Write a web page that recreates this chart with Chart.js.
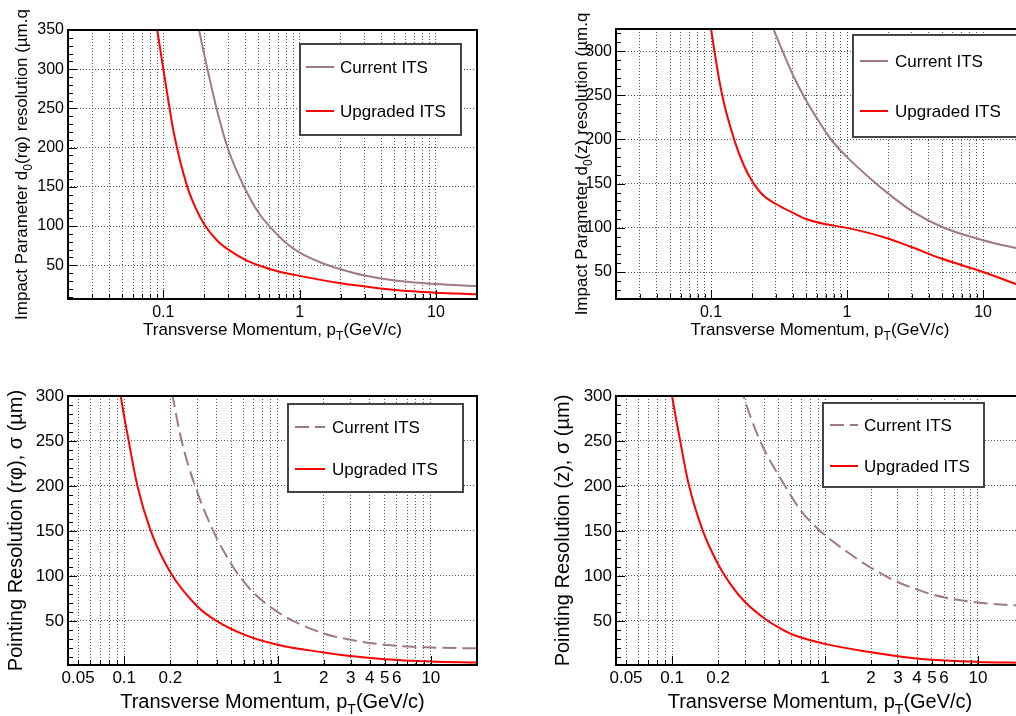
<!DOCTYPE html>
<html>
<head>
<meta charset="utf-8">
<script src="https://cdn.jsdelivr.net/npm/chart.js@4.4.0/dist/chart.umd.min.js"></script>
<style>
    html, body { margin: 0; padding: 0; background: #fff; overflow: hidden; width: 1016px; height: 716px; }
    canvas { position: absolute; }
</style>
</head>
<body>
<canvas id="chartA" width="500" height="345" style="left:0;top:0"></canvas>
<canvas id="chartB" width="500" height="345" style="left:540px;top:0"></canvas>
<canvas id="chartC" width="500" height="356" style="left:0;top:360px"></canvas>
<canvas id="chartD" width="500" height="356" style="left:540px;top:360px"></canvas>
<script>
// ------------------- Data -------------------
// d0 (r-phi)
const ptCurA = [0.17, 0.183, 0.2, 0.25, 0.3, 0.4, 0.5, 0.6, 0.8, 1, 1.5, 2, 3, 5, 10, 20];
const curA   = [380, 350, 318, 245, 197, 147, 117, 100, 78, 66, 52, 45, 37, 30.5, 26, 23.5];
const ptUpgA = [0.085, 0.1, 0.11, 0.12, 0.15, 0.175, 0.2, 0.25, 0.3, 0.4, 0.5, 0.7, 1, 2, 3, 5, 10, 20];
const upgA   = [380, 300, 255, 217, 150, 121, 102, 81, 70, 57, 50, 42, 36.5, 27, 23, 18.5, 15, 13];

// d0 (z)
const ptCurB = [0.27, 0.288, 0.3, 0.4, 0.5, 0.6, 0.7, 0.8, 1, 1.5, 2, 3, 5, 10, 20];
const curB   = [340, 325, 318, 273, 244, 224, 208, 196, 180, 155, 139, 119, 101, 86, 75];
const ptUpgB = [0.097, 0.1, 0.12, 0.15, 0.175, 0.2, 0.225, 0.25, 0.3, 0.4, 0.5, 0.7, 1, 2, 3, 5, 10, 20];
const upgB   = [340, 325, 252, 197, 170, 153, 142, 135, 127, 117, 110, 104, 100, 88, 78, 65, 50, 33];

// pointing resolution (r-phi)
const ptCurC = [0.195, 0.207, 0.237, 0.29, 0.381, 0.5, 0.563, 0.7, 1, 1.2, 2, 3, 5, 10, 20];
const curC   = [325, 300, 250, 200, 150, 113, 100, 81, 60, 52, 36, 29, 23.5, 20.5, 19.5];
const ptUpgC = [0.09, 0.095, 0.107, 0.122, 0.149, 0.2, 0.3, 0.4, 0.6, 1, 2, 3, 5, 10, 20];
const upgC   = [330, 300, 250, 200, 150, 104, 66, 50, 35, 23.5, 15, 11, 7.5, 5, 3.8];

// pointing resolution (z)
const ptCurD = [0.28, 0.293, 0.377, 0.548, 0.7, 0.93, 1.5, 2, 3, 4, 5, 7, 10, 20];
const curD   = [312, 300, 250, 200, 172, 150, 123, 109, 93, 85, 79.5, 74, 70.5, 66.5];
const ptUpgD = [0.096, 0.1, 0.113, 0.128, 0.159, 0.2, 0.25, 0.3, 0.4, 0.5, 0.6, 1, 2, 3, 5, 10, 20];
const upgD   = [320, 300, 250, 203, 150, 113, 87, 71, 53, 42.5, 35.5, 24.5, 15.2, 10.8, 6.8, 4.4, 3.4];

// tick labels
const xLabelsTop = [0.1, 1, 10];
const xLabelsBottom = [0.05, 0.1, 0.2, 1, 2, 3, 4, 5, 6, 10];
const yTicksA = [50, 100, 150, 200, 250, 300, 350];
const yTicksB = [50, 100, 150, 200, 250, 300];
const yTicksC = [50, 100, 150, 200, 250, 300];

const seriesNames = ['Current ITS', 'Upgraded ITS'];
const colorCurrent = '#9e7b84';
const colorUpgraded = '#ff0000';
const FONT = '"Liberation Sans", Arial, Helvetica, sans-serif';

Chart.defaults.font.family = FONT;
Chart.defaults.color = '#000';

// log grid positions 1..9 x 10^n inside [min, max]
function logTicks(min, max) {
    const out = [];
    for (let e = -2; e <= 1; e++) {
        for (let m = 1; m <= 9; m++) {
            const v = +(m * Math.pow(10, e)).toPrecision(6);
            if (v >= min * 0.999 && v <= max * 1.001) out.push(v);
        }
    }
    return out;
}
const isIn = (v, list) => list.some(l => Math.abs(v - l) / l < 1e-6);
const pairs = (xs, ys) => xs.map((x, i) => ({ x: x, y: ys[i] }));

// ------------------- Drawing helpers -------------------
function drawRich(ctx, parts, size, cx, cy, rotate) {
    const main = size + 'px ' + FONT;
    const sub = Math.round(size * 0.7) + 'px ' + FONT;
    ctx.save();
    ctx.translate(cx, cy);
    if (rotate) ctx.rotate(-Math.PI / 2);
    let total = 0;
    parts.forEach(p => { ctx.font = p.sub ? sub : main; total += ctx.measureText(p.t).width; });
    let x = -total / 2;
    ctx.textBaseline = 'middle';
    ctx.textAlign = 'left';
    ctx.fillStyle = '#000';
    parts.forEach(p => {
        ctx.font = p.sub ? sub : main;
        ctx.fillText(p.t, x, p.sub ? size * 0.42 : 0);
        x += ctx.measureText(p.t).width;
    });
    ctx.restore();
}

const rootStyle = {
    id: 'rootStyle',
    afterDatasetsDraw(chart, args, opts) {
        const { ctx, chartArea: a, scales } = chart;
        const xs = scales.x, ys = scales.y;
        ctx.save();
        // inside tick marks
        ctx.strokeStyle = '#000';
        ctx.lineWidth = 1;
        ctx.beginPath();
        opts.xTicks.forEach(v => {
            const px = Math.round(xs.getPixelForValue(v)) + 0.5;
            const len = isIn(v, [0.01, 0.1, 1, 10]) ? 9 : 5;
            ctx.moveTo(px, a.bottom);
            ctx.lineTo(px, a.bottom - len);
        });
        for (let v = 10; v < ys.max; v += 10) {
            if (v < ys.min) continue;
            const py = Math.round(ys.getPixelForValue(v)) + 0.5;
            const len = v % 50 === 0 ? 9 : 5;
            ctx.moveTo(a.left, py);
            ctx.lineTo(a.left + len, py);
        }
        ctx.stroke();
        // frame
        ctx.lineWidth = 2;
        ctx.strokeRect(a.left, a.top, a.right - a.left, a.bottom - a.top);

        // legend
        const L = opts.legend;
        ctx.fillStyle = '#fff';
        ctx.fillRect(L.x1, L.y1, L.x2 - L.x1, L.y2 - L.y1);
        ctx.strokeStyle = '#444';
        ctx.lineWidth = 2;
        ctx.strokeRect(L.x1, L.y1, L.x2 - L.x1, L.y2 - L.y1);
        chart.data.datasets.forEach((ds, i) => {
            const y = L.rows[i];
            ctx.strokeStyle = ds.borderColor;
            ctx.lineWidth = ds.borderWidth;
            ctx.setLineDash(ds.borderDash || []);
            ctx.beginPath();
            ctx.moveTo(L.lx1, y);
            ctx.lineTo(L.lx2, y);
            ctx.stroke();
            ctx.setLineDash([]);
            ctx.fillStyle = '#000';
            ctx.font = L.size + 'px ' + FONT;
            ctx.textBaseline = 'middle';
            ctx.textAlign = 'left';
            ctx.fillText(ds.label, L.tx, y + 1);
        });
        ctx.restore();

        // axis titles
        const cx = (a.left + a.right) / 2, cy = (a.top + a.bottom) / 2;
        drawRich(ctx, opts.xTitle, opts.titleSize, cx, opts.xTitleY, false);
        drawRich(ctx, opts.yTitle, opts.titleSize, opts.yTitleX, cy, true);
    }
};

// ------------------- Panels -------------------
function makeChart(p) {
    const xTicks = logTicks(p.xMin, p.xMax);
    new Chart(document.getElementById(p.id).getContext('2d'), {
        type: 'line',
        data: {
            datasets: [
                {
                    label: seriesNames[0],
                    data: pairs(p.ptCur, p.cur),
                    borderColor: colorCurrent,
                    borderWidth: 2,
                    borderDash: p.dashed ? [14, 6] : [],
                    pointRadius: 0,
                    cubicInterpolationMode: 'monotone',
                    fill: false
                },
                {
                    label: seriesNames[1],
                    data: pairs(p.ptUpg, p.upg),
                    borderColor: colorUpgraded,
                    borderWidth: 2,
                    pointRadius: 0,
                    cubicInterpolationMode: 'monotone',
                    fill: false
                }
            ]
        },
        options: {
            responsive: false,
            animation: false,
            layout: { padding: { top: p.padTop, right: p.padRight, left: 0, bottom: 0 } },
            plugins: {
                legend: { display: false },
                tooltip: { enabled: false },
                rootStyle: {
                    xTicks: xTicks,
                    legend: p.legend,
                    xTitle: p.xTitle,
                    yTitle: p.yTitle,
                    titleSize: p.titleSize,
                    xTitleY: p.xTitleY,
                    yTitleX: p.yTitleX
                }
            },
            scales: {
                x: {
                    type: 'logarithmic',
                    min: p.xMin,
                    max: p.xMax,
                    bounds: 'data',
                    afterBuildTicks: s => { s.ticks = xTicks.map(v => ({ value: v })); },
                    afterFit: s => { s.height = p.xAxisHeight; },
                    grid: { color: '#555', lineWidth: 1, drawTicks: false },
                    border: { display: false, dash: [1, 2] },
                    ticks: {
                        autoSkip: false,
                        maxRotation: 0,
                        padding: p.xPad,
                        font: { size: p.tickSize },
                        callback: v => (isIn(v, p.xLabels) ? String(+v.toPrecision(3)) : '')
                    }
                },
                y: {
                    type: 'linear',
                    min: p.yMin,
                    max: p.yMax,
                    bounds: 'data',
                    afterBuildTicks: s => { s.ticks = p.yTicks.map(v => ({ value: v })); },
                    afterFit: s => { s.width = p.yAxisWidth; },
                    grid: { color: '#555', lineWidth: 1, drawTicks: false },
                    border: { display: false, dash: [1, 2] },
                    ticks: { padding: 4, font: { size: p.tickSize }, callback: v => String(v) }
                }
            }
        },
        plugins: [rootStyle]
    });
}

const xTitleParts = [{ t: 'Transverse Momentum, p' }, { t: 'T', sub: true }, { t: '(GeV/c)' }];

document.addEventListener('DOMContentLoaded', () => {
    makeChart({
        id: 'chartA', ptCur: ptCurA, cur: curA, ptUpg: ptUpgA, upg: upgA, dashed: false,
        xMin: 0.02, xMax: 20, yMin: 7, yMax: 350, yTicks: yTicksA, xLabels: xLabelsTop,
        padTop: 30, padRight: 23, xAxisHeight: 46, yAxisWidth: 68, xPad: 4, tickSize: 16,
        titleSize: 17, xTitleY: 330, yTitleX: 22,
        xTitle: xTitleParts,
        yTitle: [{ t: 'Impact Parameter d' }, { t: '0', sub: true }, { t: '(r\u03C6) resolution (\u00B5m.q' }],
        legend: { x1: 300, y1: 44, x2: 461, y2: 135, rows: [67, 111], lx1: 306, lx2: 334, tx: 340, size: 17 }
    });
    makeChart({
        id: 'chartB', ptCur: ptCurB, cur: curB, ptUpg: ptUpgB, upg: upgB, dashed: false,
        xMin: 0.02, xMax: 20, yMin: 19.5, yMax: 325, yTicks: yTicksB, xLabels: xLabelsTop,
        padTop: 29, padRight: 16, xAxisHeight: 46, yAxisWidth: 76, xPad: 4, tickSize: 16,
        titleSize: 17, xTitleY: 330, yTitleX: 42,
        xTitle: xTitleParts,
        yTitle: [{ t: 'Impact Parameter d' }, { t: '0', sub: true }, { t: '(z) resolution (\u00B5m.q' }],
        legend: { x1: 313, y1: 35, x2: 495, y2: 137, rows: [61, 111], lx1: 320, lx2: 348, tx: 355, size: 17 }
    });
    makeChart({
        id: 'chartC', ptCur: ptCurC, cur: curC, ptUpg: ptUpgC, upg: upgC, dashed: true,
        xMin: 0.043, xMax: 20, yMin: 1, yMax: 300, yTicks: yTicksC, xLabels: xLabelsBottom,
        padTop: 36, padRight: 23, xAxisHeight: 51, yAxisWidth: 68, xPad: 3, tickSize: 17,
        titleSize: 20, xTitleY: 342, yTitleX: 16,
        xTitle: xTitleParts,
        yTitle: [{ t: 'Pointing Resolution (r\u03C6), \u03C3 (\u00B5m)' }],
        legend: { x1: 288, y1: 44, x2: 463, y2: 132, rows: [67, 109], lx1: 295, lx2: 325, tx: 332, size: 17 }
    });
    makeChart({
        id: 'chartD', ptCur: ptCurD, cur: curD, ptUpg: ptUpgD, upg: upgD, dashed: true,
        xMin: 0.043, xMax: 20, yMin: 1, yMax: 300, yTicks: yTicksC, xLabels: xLabelsBottom,
        padTop: 36, padRight: 16, xAxisHeight: 51, yAxisWidth: 76, xPad: 3, tickSize: 17,
        titleSize: 20, xTitleY: 342, yTitleX: 23,
        xTitle: xTitleParts,
        yTitle: [{ t: 'Pointing Resolution (z), \u03C3 (\u00B5m)' }],
        legend: { x1: 283, y1: 43, x2: 444, y2: 127, rows: [65, 106], lx1: 290, lx2: 318, tx: 324, size: 17 }
    });
});
</script>
</body>
</html>
